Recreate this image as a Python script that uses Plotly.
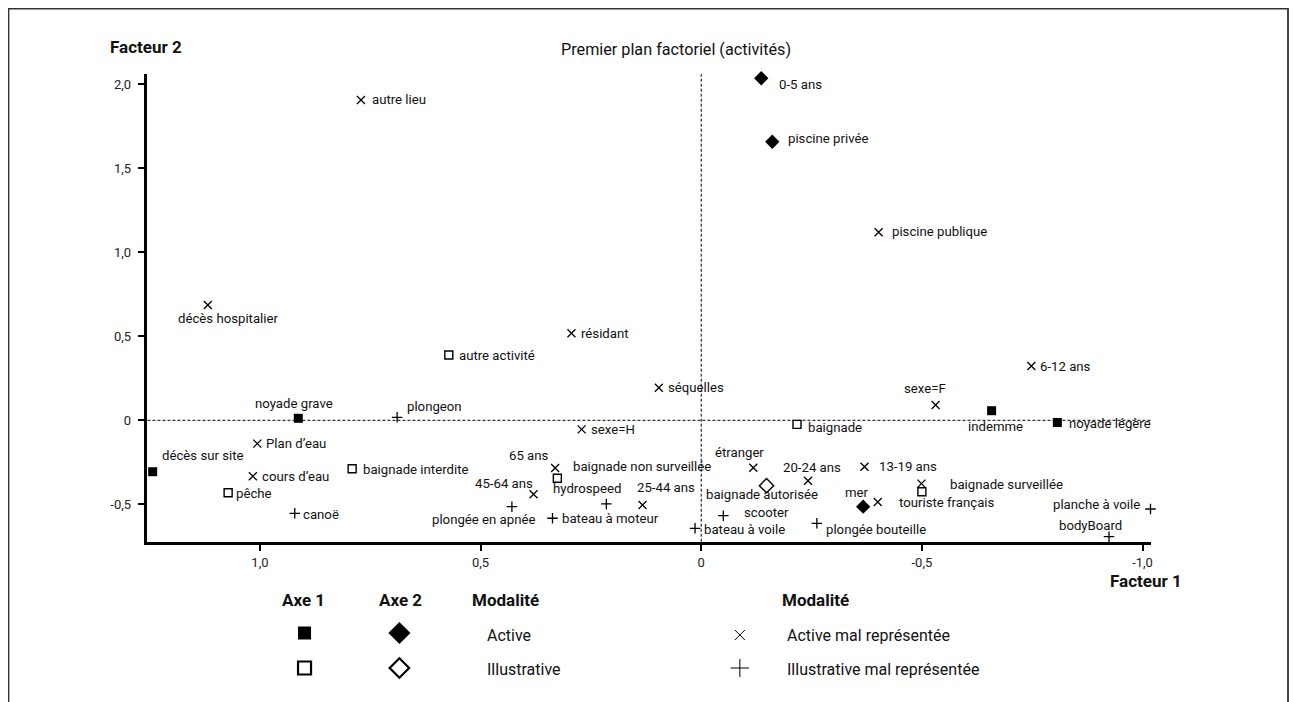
import plotly.graph_objects as go

# page is rendered with an 8px body margin: figure origin sits at page (8, 8)
PAGE_W, PAGE_H = 1298, 702
OFF = 8
W, H = PAGE_W - OFF, PAGE_H - OFF

# ---------------- data (Facteur 1, Facteur 2) ----------------
ACTIVE_NAMES = ["noyade grave", "décès sur site", "indemme", "noyade légère"]
ACTIVE_F1 = [0.913, 1.243, -0.658, -0.807]
ACTIVE_F2 = [0.012, -0.306, 0.057, -0.013]

ACTIVE_AX2_NAMES = ["0-5 ans", "piscine privée", "mer"]
ACTIVE_AX2_F1 = [-0.136, -0.161, -0.367]
ACTIVE_AX2_F2 = [2.036, 1.658, -0.514]

ILLUS_NAMES = ["autre activité", "baignade interdite", "pêche",
               "baignade non surveillée", "baignade", "baignade surveillée"]
ILLUS_F1 = [0.572, 0.791, 1.072, 0.326, -0.217, -0.500]
ILLUS_F2 = [0.389, -0.288, -0.431, -0.345, -0.024, -0.425]

ILLUS_AX2_NAMES = ["baignade autorisée"]
ILLUS_AX2_F1 = [-0.148]
ILLUS_AX2_F2 = [-0.389]

ACTIVE_MAL_NAMES = ["autre lieu", "piscine publique", "décès hospitalier", "résidant",
                    "séquelles", "sexe=H", "6-12 ans", "sexe=F", "Plan d’eau",
                    "cours d’eau", "65 ans", "45-64 ans", "25-44 ans", "étranger",
                    "20-24 ans", "13-19 ans", "touriste français", ""]
ACTIVE_MAL_F1 = [0.771, -0.402, 1.118, 0.294, 0.096, 0.271, -0.748, -0.531, 1.006,
                 1.016, 0.331, 0.380, 0.133, -0.118, -0.242, -0.370, -0.400, -0.499]
ACTIVE_MAL_F2 = [1.907, 1.119, 0.686, 0.518, 0.194, -0.054, 0.323, 0.091, -0.139,
                 -0.333, -0.284, -0.440, -0.504, -0.282, -0.360, -0.276, -0.486, -0.377]

ILLUS_MAL_NAMES = ["plongeon", "canoë", "plongée en apnée", "bateau à moteur",
                   "hydrospeed", "bateau à voile", "scooter", "plongée bouteille",
                   "planche à voile", "bodyBoard"]
ILLUS_MAL_F1 = [0.689, 0.921, 0.429, 0.337, 0.215, 0.014, -0.050, -0.262, -1.018, -0.924]
ILLUS_MAL_F2 = [0.018, -0.554, -0.514, -0.583, -0.498, -0.643, -0.568, -0.613, -0.528, -0.693]

X_TICKS = [1.0, 0.5, 0.0, -0.5, -1.0]
X_TICK_TEXT = ["1,0", "0,5", "0", "-0,5", "-1,0"]
Y_TICKS = [2.0, 1.5, 1.0, 0.5, 0.0, -0.5]
Y_TICK_TEXT = ["2,0", "1,5", "1,0", "0,5", "0", "-0,5"]

TITLE = "Premier plan factoriel (activités)"
X_TITLE = "Facteur 1"
Y_TITLE = "Facteur 2"

LEGEND_HEADERS = ["Axe 1", "Axe 2", "Modalité", "Modalité"]
LEGEND_LABELS = ["Active", "Illustrative", "Active mal représentée", "Illustrative mal représentée"]

# ---------------- label placement (anchor, dx px, dy px up) ----------------
LABEL_POS = {
    "noyade grave": ("center", -4, 15), "décès sur site": ("center", 50, 16),
    "indemme": ("center", 4, -16), "noyade légère": ("left", 11, -1.5),
    "0-5 ans": ("left", 17, -6), "piscine privée": ("left", 15, 3),
    "mer": ("center", -6, 14),
    "autre activité": ("left", 9, -1), "baignade interdite": ("left", 10, -1),
    "pêche": ("left", 7, -1), "baignade non surveillée": ("left", 15, 12),
    "baignade": ("left", 10, -3), "baignade surveillée": ("left", 27, 7.5),
    "baignade autorisée": ("center", -5, -8.5),
    "autre lieu": ("left", 10, 0), "piscine publique": ("left", 12, 0.5),
    "décès hospitalier": ("center", 21, -13), "résidant": ("left", 8.5, 0),
    "séquelles": ("left", 8.5, 0), "sexe=H": ("left", 8, 0),
    "6-12 ans": ("left", 8, 0), "sexe=F": ("center", -10.5, 16.5),
    "Plan d’eau": ("left", 8, 0), "cours d’eau": ("left", 8.5, 0),
    "65 ans": ("center", -26, 13), "45-64 ans": ("center", -30, 11),
    "25-44 ans": ("center", 23, 17), "étranger": ("center", -14, 15.5),
    "20-24 ans": ("center", 4, 13.5), "13-19 ans": ("left", 13, 0),
    "touriste français": ("left", 20, -0.7),
    "plongeon": ("left", 9, 10.5), "canoë": ("left", 7.5, -0.7),
    "plongée en apnée": ("center", -28, -12.5), "bateau à moteur": ("left", 8.5, -0.7),
    "hydrospeed": ("center", -19, 15.5), "bateau à voile": ("left", 8, -0.7),
    "scooter": ("center", 43, 3.5), "plongée bouteille": ("left", 8, -6.7),
    "planche à voile": ("right", -9, 4.7), "bodyBoard": ("center", -18, 11),
}

FONT = "Roboto, 'Open Sans', sans-serif"
INK = "#111111"

fig = go.Figure()

groups = [
    (ACTIVE_NAMES, ACTIVE_F1, ACTIVE_F2, dict(symbol="square", size=9, color="black", line=dict(width=0))),
    (ACTIVE_AX2_NAMES, ACTIVE_AX2_F1, ACTIVE_AX2_F2, dict(symbol="diamond", size=11, color="black", line=dict(width=0))),
    (ILLUS_NAMES, ILLUS_F1, ILLUS_F2, dict(symbol="square-open", size=8, color="black", line=dict(width=1.4, color="black"))),
    (ILLUS_AX2_NAMES, ILLUS_AX2_F1, ILLUS_AX2_F2, dict(symbol="diamond-open", size=11, color="black", line=dict(width=1.4, color="black"))),
    (ACTIVE_MAL_NAMES, ACTIVE_MAL_F1, ACTIVE_MAL_F2, dict(symbol="x-thin-open", size=8, color="black", line=dict(width=1.3, color="black"))),
    (ILLUS_MAL_NAMES, ILLUS_MAL_F1, ILLUS_MAL_F2, dict(symbol="cross-thin-open", size=7.5, color="black", line=dict(width=1.3, color="black"))),
]

annotations = []
for names, xs, ys, marker in groups:
    fig.add_trace(go.Scatter(x=xs, y=ys, mode="markers", marker=marker, text=names,
                             hoverinfo="text", showlegend=False, cliponaxis=False,
                             xaxis="x", yaxis="y"))
    for n, x, y in zip(names, xs, ys):
        if not n or n not in LABEL_POS:
            continue
        anchor, dx, dy = LABEL_POS[n]
        annotations.append(dict(x=x, y=y, xref="x", yref="y", text=n, showarrow=False,
                                xanchor=anchor, yanchor="middle", xshift=dx, yshift=dy,
                                borderpad=0, font=dict(family=FONT, size=13.2, color=INK)))

# ---------------- page-pixel helpers ----------------
def px(x):
    return (x - OFF) / W


def py(y):
    return 1 - (y - OFF) / H

annotations += [
    dict(x=px(677), y=py(49), xref="paper", yref="paper", text=TITLE, showarrow=False,
         xanchor="center", yanchor="middle", font=dict(family=FONT, size=16.2, color=INK)),
    dict(x=px(108), y=py(46.5), xref="paper", yref="paper", text="<b>" + Y_TITLE + "</b>",
         showarrow=False, xanchor="left", yanchor="middle", font=dict(family=FONT, size=17, color=INK)),
    dict(x=px(1148), y=py(581), xref="paper", yref="paper", text="<b>" + X_TITLE + "</b>",
         showarrow=False, xanchor="center", yanchor="middle", font=dict(family=FONT, size=17, color=INK)),
]

# ---------------- legend (drawn in page-pixel coords on helper axes) ----------------
LEG_HEAD_POS = [(304, "center"), (401, "center"), (471, "left"), (781, "left")]
for t, (x, anc) in zip(LEGEND_HEADERS, LEG_HEAD_POS):
    annotations.append(dict(x=x, y=600, xref="x2", yref="y2", text="<b>" + t + "</b>", showarrow=False,
                            xanchor=anc, yanchor="middle", font=dict(family=FONT, size=17, color=INK)))
LEG_TEXT_POS = [(486, 635), (486, 669), (786, 635), (786, 669)]
for t, (x, y) in zip(LEGEND_LABELS, LEG_TEXT_POS):
    annotations.append(dict(x=x, y=y, xref="x2", yref="y2", text=t, showarrow=False,
                            xanchor="left", yanchor="middle", font=dict(family=FONT, size=16, color=INK)))

LEG_MARKS = [
    (305, 633, dict(symbol="square", size=13, color="black", line=dict(width=0))),
    (400, 633, dict(symbol="diamond", size=17, color="black", line=dict(width=0))),
    (305, 668, dict(symbol="square-open", size=13, color="black", line=dict(width=2.2, color="black"))),
    (400, 668, dict(symbol="diamond-open", size=15, color="black", line=dict(width=2.2, color="black"))),
    (741, 635, dict(symbol="x-thin-open", size=10, color="black", line=dict(width=1, color="black"))),
    (741, 668, dict(symbol="cross-thin-open", size=13, color="black", line=dict(width=1, color="black"))),
]
for x, y, m in LEG_MARKS:
    fig.add_trace(go.Scatter(x=[x], y=[y], mode="markers", marker=m, showlegend=False,
                             hoverinfo="skip", xaxis="x2", yaxis="y2", cliponaxis=False))

# ---------------- axes ----------------
X_LEFT, X_RIGHT, Y_TOP, Y_BOT = 147.7, 1153.0, 74.0, 541.7
X0_PX, X_SCALE = 702.3, 442.0
Y0_PX, Y_SCALE = 420.3, 168.0

xr = [(X0_PX - X_LEFT) / X_SCALE, (X0_PX - X_RIGHT) / X_SCALE]
yr = [(Y0_PX - Y_BOT) / Y_SCALE, (Y0_PX - Y_TOP) / Y_SCALE]

axis_common = dict(showgrid=False, zeroline=False, showline=True, linecolor="black", linewidth=2.5,
                   ticks="outside", ticklen=7, tickwidth=2.2, tickcolor="black",
                   tickfont=dict(family=FONT, size=13, color="#222222"))

fig.update_layout(
    width=W, height=H,
    margin=dict(l=0, r=0, t=0, b=0),
    paper_bgcolor="white", plot_bgcolor="rgba(0,0,0,0)",
    xaxis=dict(domain=[px(X_LEFT), px(X_RIGHT)], range=xr, tickvals=X_TICKS, ticktext=X_TICK_TEXT,
               anchor="y", **axis_common),
    yaxis=dict(domain=[py(Y_BOT), py(Y_TOP)], range=yr, tickvals=Y_TICKS, ticktext=Y_TICK_TEXT,
               anchor="x", ticklabelstandoff=4, **axis_common),
    xaxis2=dict(domain=[0, 1], range=[OFF, PAGE_W], visible=False, anchor="y2", fixedrange=True),
    yaxis2=dict(domain=[0, 1], range=[PAGE_H, OFF], visible=False, anchor="x2", fixedrange=True),
    annotations=annotations,
    shapes=[
        dict(type="line", xref="x", yref="y domain", x0=0, x1=0, y0=0, y1=1,
             line=dict(color="black", width=1, dash="3px,2px"), layer="below"),
        dict(type="line", xref="x domain", yref="y", x0=0, x1=1, y0=0, y1=0,
             line=dict(color="black", width=1, dash="3px,2px"), layer="below"),
        dict(type="rect", xref="paper", yref="paper", x0=px(8.5), x1=px(1290), y0=-0.05, y1=py(8.5),
             line=dict(color="#333333", width=1.8), fillcolor="rgba(0,0,0,0)"),
    ],
    hovermode="closest",
)

fig.write_html("out.html")
